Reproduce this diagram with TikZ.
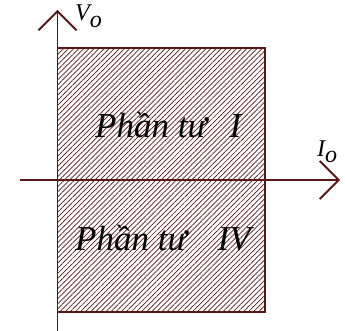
\documentclass[tikz,border=0pt]{standalone}
\usepackage{fontspec}
\setmainfont{Liberation Serif}
\usetikzlibrary{arrows.meta, patterns.meta, positioning}
\definecolor{deepred}{RGB}{88,22,22}

\begin{document}
\begin{tikzpicture}[
  x=1pt, y=-1pt,
  axis/.style={deepred, line width=1.8pt,
               -{Straight Barb[length=19pt, width=38pt, line width=1.8pt]}},
  region/.style={draw=deepred, line width=1.5pt, pattern color=deepred,
                 pattern={Lines[angle=45, distance=3.6pt, line width=0.7pt]}},
  quadlabel/.style={font=\itshape\fontsize{35}{40}\selectfont, inner sep=0pt, anchor=base west},
  axlabel/.style={font=\itshape\fontsize{24}{28}\selectfont, inner sep=0pt, anchor=base west},
]
  \useasboundingbox (0,0) rectangle (345,331);
  % operating region
  \coordinate (tl) at (57.5,48);
  \coordinate (br) at (265,312);
  \draw[region] (tl) rectangle (br);
  % axes
  \coordinate (vbot) at (57.5,331);
  \coordinate (vtop) at (57.5,10);
  \coordinate (hleft) at (20,180);
  \coordinate (hright) at (340,180);
  \draw[axis] (hleft) -- (hright);
  \draw[axis] (vbot) -- (vtop);
  % labels
  \node[axlabel] (vo) at (75,21) {V\raisebox{-7pt}{o}};
  \node[axlabel] (io) at (317,157) {I\raisebox{-6pt}{o}};
  \node[quadlabel] (q1) at (95,138) {Phần tư\hspace{23pt}I};
  \node[quadlabel] (q4) at (75,250) {Phần tư\hspace{31pt}IV};
\end{tikzpicture}
\end{document}
